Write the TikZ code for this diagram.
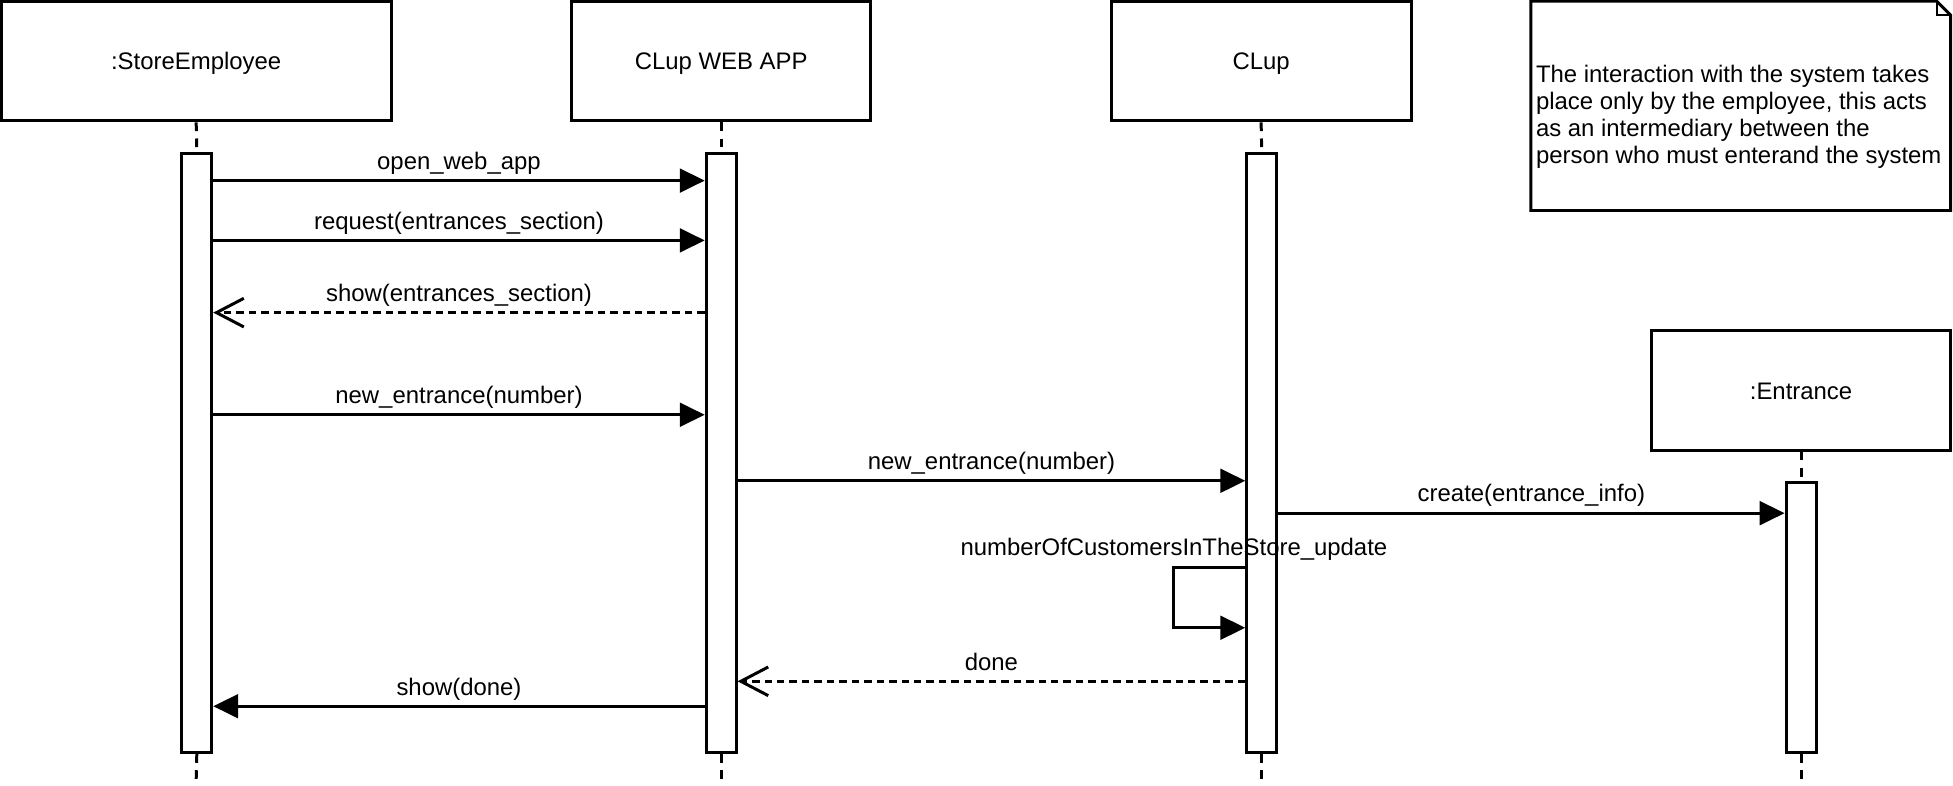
\documentclass[tikz,border=0pt]{standalone}
\usepackage{fontspec}
\setmainfont{Liberation Sans}
\usetikzlibrary{arrows.meta}
\newcommand{\headtext}[1]{\raisebox{-6.9pt}[0pt][0pt]{#1}}
\begin{document}
\begin{tikzpicture}[x=1pt,y=-1pt,
  every node/.style={font=\fontsize{19.2}{21.6}\selectfont},
  head/.style={draw, line width=2.4pt, minimum height=96pt, inner sep=0pt},
  bar/.style={draw, line width=2.4pt, fill=white, minimum width=24pt, inner sep=0pt, anchor=north},
  life/.style={line width=2.4pt, dash pattern=on 7pt off 6pt},
  call/.style={line width=2.4pt, -{Triangle[length=20pt,width=19pt]}},
  reply/.style={line width=2.4pt, dash pattern=on 6pt off 4pt, -{Straight Barb[length=22pt,width=23pt,line width=2.4pt]}},
  lbl/.style={anchor=base, inner sep=0pt}]
\useasboundingbox (0,0) rectangle (1568,631);
% heads
\node[head, minimum width=313pt] (emp) at (157.5,49) {\headtext{:StoreEmployee}};
\node[head, minimum width=240pt] (web) at (579,49) {\headtext{CLup WEB APP}};
\node[head, minimum width=241pt] (clup) at (1012.5,49) {\headtext{CLup}};
\node[head, minimum width=240pt] (ent) at (1446,313.5) {\headtext{:Entrance}};
% note
\node[anchor=west, align=left, inner sep=0pt] (note) at (1233,94)
  {The interaction with the system takes\\place only by the employee, this acts\\as an intermediary between the\\person who must enterand the system};
\draw[line width=2.4pt] (1229,1) -- (1555,1) -- (1566,12) -- (1566,169) -- (1229,169) -- cycle;
\draw[line width=1.6pt] (1555,1) -- (1555,12) -- (1566,12);
% end points of lifelines
\coordinate (empend) at (157.5,627);
\coordinate (webend) at (579,627);
\coordinate (clupend) at (1013,627);
\coordinate (entend) at (1446,627);
% activation bars
\node[bar, minimum height=481pt] (a1) at (158,122) {};
\node[bar, minimum height=481pt] (a2) at (579,122) {};
\node[bar, minimum height=481pt] (a3) at (1013,122) {};
\node[bar, minimum height=217pt] (a4) at (1446,386) {};
% lifelines
\draw[life] (emp.south) -- (a1.north);
\draw[life] (web.south) -- (a2.north);
\draw[life] (clup.south) -- (a3.north);
\draw[life] (ent.south) -- (a4.north);
\draw[life] (a1.south) -- (empend);
\draw[life] (a2.south) -- (webend);
\draw[life] (a3.south) -- (clupend);
\draw[life] (a4.south) -- (entend);
% messages
\draw[call] (a1.east |- 0,145) -- (a2.west |- 0,145);
\node[lbl] (m1) at (368.5,136) {open\_web\_app};
\draw[call] (a1.east |- 0,193) -- (a2.west |- 0,193);
\node[lbl] (m2) at (368.5,184) {request(entrances\_section)};
\draw[reply] (a2.west |- 0,251) -- (a1.east |- 0,251);
\node[lbl] (m3) at (368.5,242) {show(entrances\_section)};
\draw[call] (a1.east |- 0,333) -- (a2.west |- 0,333);
\node[lbl] (m4) at (368.5,324) {new\_entrance(number)};
\draw[call] (a2.east |- 0,386) -- (a3.west |- 0,386);
\node[lbl] (m5) at (796,377) {new\_entrance(number)};
\draw[call] (a3.east |- 0,412) -- (a4.west |- 0,412);
\node[lbl] (m6) at (1229.5,403) {create(entrance\_info)};
\draw[call] (a3.west |- 0,456) -- ++(-58,0) -- ++(0,48) -- (a3.west |- 0,504);
\node[lbl] (m7) at (942.5,446) {numberOfCustomersInTheStore\_update};
\draw[reply] (a3.west |- 0,547) -- (a2.east |- 0,547);
\node[lbl] (m8) at (796,538) {done};
\draw[call] (a2.west |- 0,567) -- (a1.east |- 0,567);
\node[lbl] (m9) at (368.5,558) {show(done)};
\end{tikzpicture}
\end{document}
